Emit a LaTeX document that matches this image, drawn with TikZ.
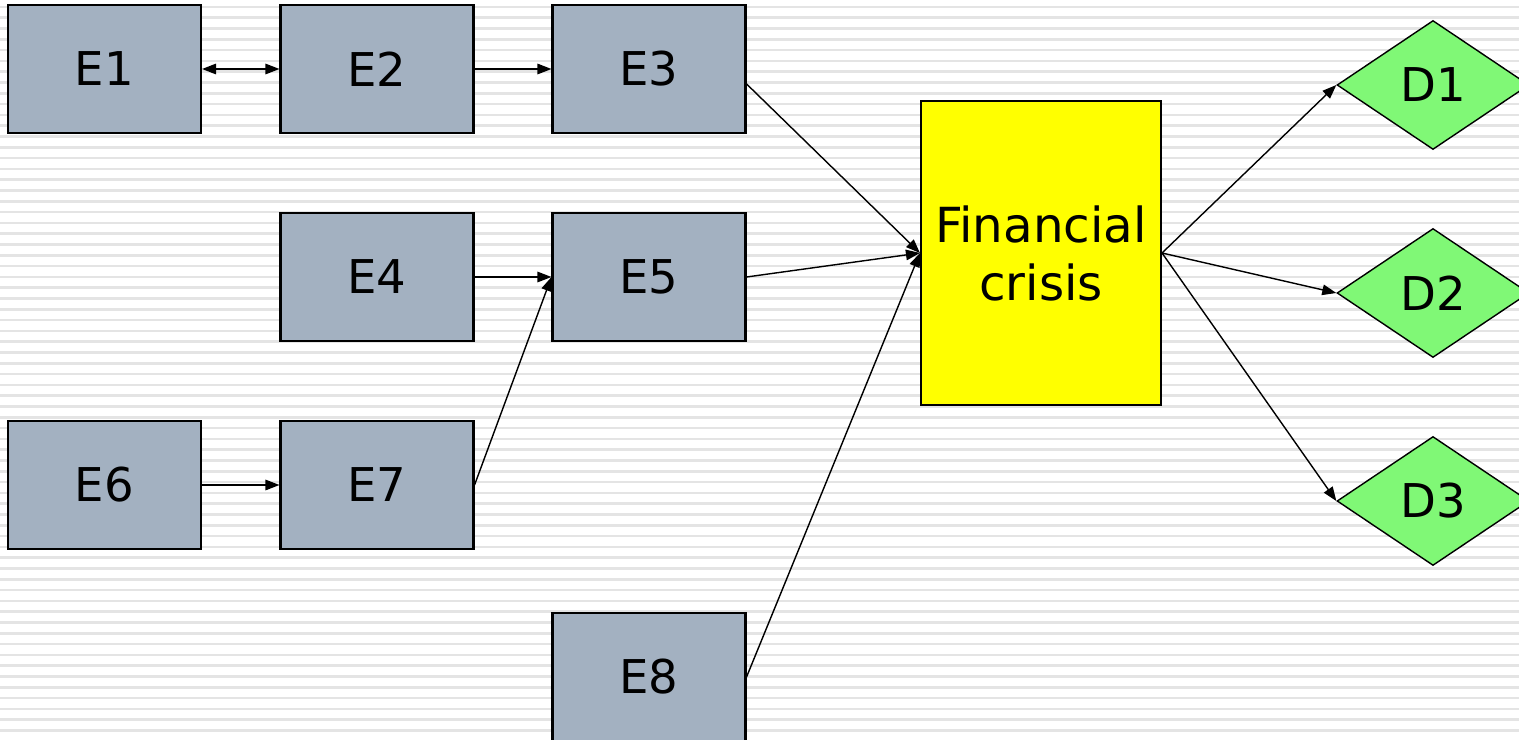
\documentclass[tikz,border=0pt]{standalone}
\usepackage{fontspec}
\setmainfont{DejaVu Sans}
\usetikzlibrary{arrows.meta, shapes.geometric}
\definecolor{boxgray}{RGB}{163,177,193}
\definecolor{crisisyellow}{RGB}{255,255,0}
\definecolor{diagreen}{RGB}{128,248,118}
\definecolor{stripegray}{RGB}{228,228,228}
\tikzset{
    event/.style={draw, line width=1.2pt, fill=boxgray, minimum width=3.86cm, minimum height=2.56cm, inner sep=0pt, font=\fontsize{26.5}{30}\selectfont},
    crisis/.style={draw, line width=1.2pt, fill=crisisyellow, minimum width=4.8cm, minimum height=6.08cm, inner sep=0pt, align=center, font=\fontsize{27.5}{33}\selectfont},
    effect/.style={diamond, draw, line width=0.8pt, fill=diagreen, minimum width=3.84cm, minimum height=2.58cm, inner sep=0pt, font=\fontsize{26.5}{30}\selectfont},
    link/.style={line width=0.8pt, -{Triangle[length=8pt,width=6pt]}}
}

\begin{document}
\begin{tikzpicture}[x=0.02cm, y=-0.02cm]
            \useasboundingbox (0,0) rectangle (1519,740);
            \fill[white] (0,0) rectangle (1519,740);
            \foreach \i in {0,...,68}
                \fill[stripegray] (0,{5.6+\i*10.8}) rectangle (1519,{8.2+\i*10.8});
            \node[event] (E1) at (104.5,69) {E1};
            \node[event] (E2) at (377,69) {E2};
            \node[event] (E3) at (649,69) {E3};
            \node[event] (E4) at (377,277) {E4};
            \node[event] (E5) at (649,277) {E5};
            \node[event] (E6) at (104.5,485) {E6};
            \node[event] (E7) at (377,485) {E7};
            \node[event] (E8) at (649,677) {E8};
            \node[crisis] (FC) at (1041,253) {Financial\\crisis};
            \node[effect] (D1) at (1433,85) {D1};
            \node[effect] (D2) at (1433,293) {D2};
            \node[effect] (D3) at (1433,501) {D3};
            \draw[link, {Triangle[length=8pt,width=6pt]}-{Triangle[length=8pt,width=6pt]}] (E1) -- (E2);
            \draw[link] (E2) -- (E3);
            \draw[link] (E4) -- (E5);
            \draw[link] (E6) -- (E7);
            \draw[link] (E7.east) -- (E5.west);
            \draw[link] ([yshift=-8.5pt]E3.east) -- (FC.west);
            \draw[link] (E5.east) -- (FC.west);
            \draw[link] (E8.east) -- (FC.west);
            \draw[link] (FC.east) -- (D1.west);
            \draw[link] (FC.east) -- (D2.west);
            \draw[link] (FC.east) -- (D3.west);
        \end{tikzpicture}
\end{document}
